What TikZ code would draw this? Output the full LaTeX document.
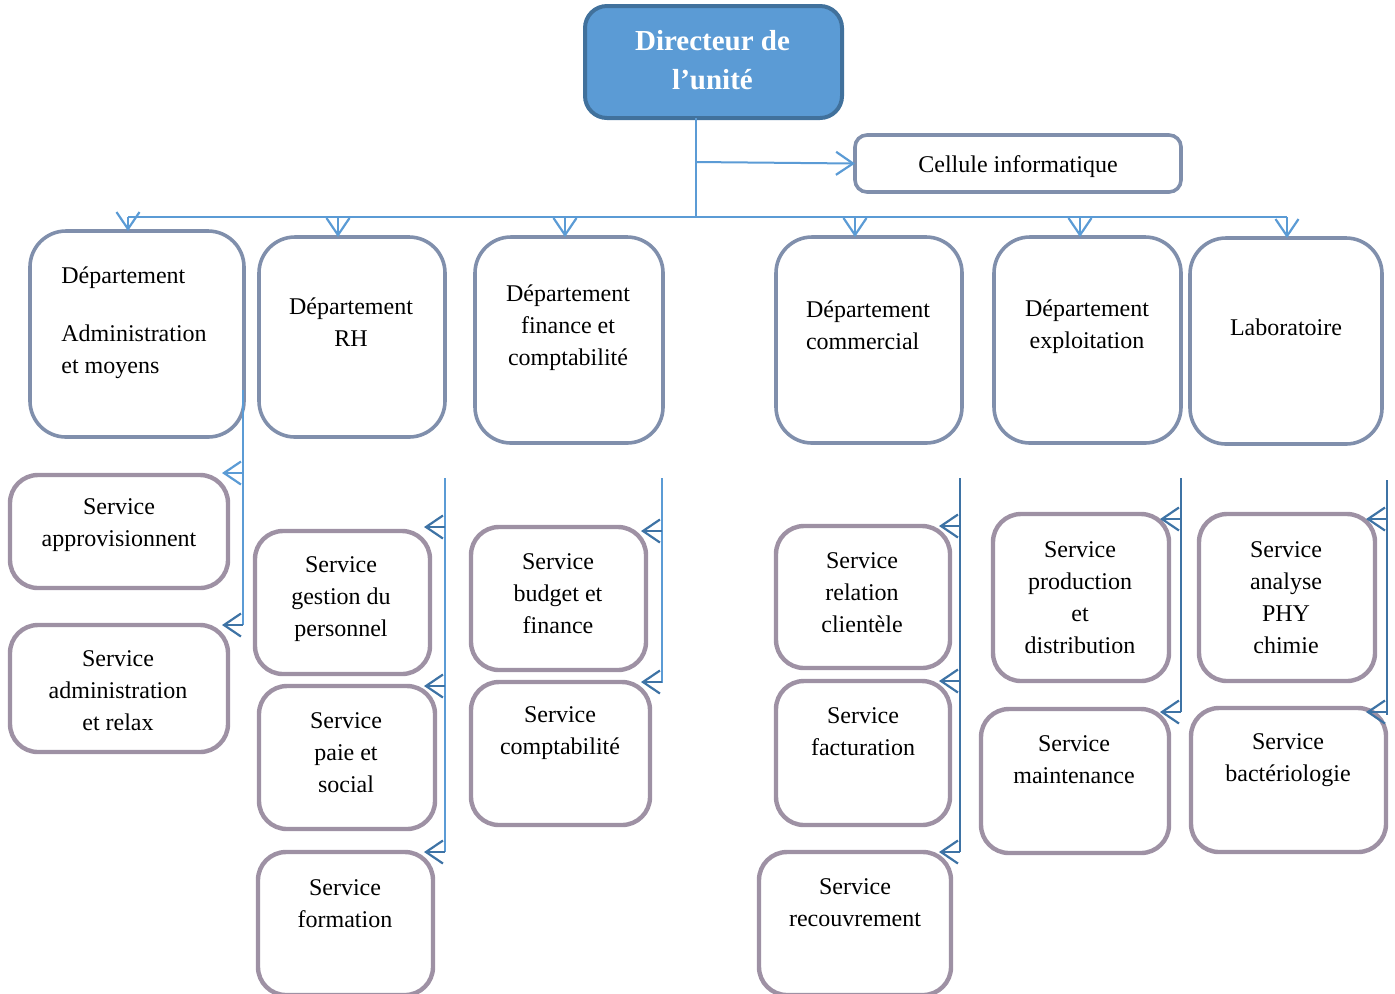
\documentclass[tikz,border=0pt]{standalone}
\usepackage{fontspec}
\setmainfont{Liberation Serif}
\usetikzlibrary{arrows.meta}
\definecolor{dirfill}{RGB}{91,155,213}
\definecolor{dirline}{RGB}{65,113,156}
\definecolor{deptc}{RGB}{128,143,172}
\definecolor{svcc}{RGB}{158,145,164}
\definecolor{lblue}{RGB}{91,155,213}
\definecolor{dblue}{RGB}{62,115,165}
\begin{document}
\begin{tikzpicture}[x=0.5pt,y=-0.5pt,
  box/.style={draw, inner sep=0pt, outer sep=0pt, fill=white},
  sz/.style 2 args={minimum width=#1*0.5pt, minimum height=#2*0.5pt},
  dept/.style={box, draw=deptc, line width=1.8pt, rounded corners=18pt},
  svc/.style={box, draw=svcc, line width=2.2pt, rounded corners=14pt},
  txt/.style={align=center, font=\fontsize{12}{16}\selectfont, inner sep=0pt},
  lnk/.style={draw=lblue, line width=1pt},
  dlnk/.style={draw=dblue, line width=0.9pt},
  arr/.style={-{Straight Barb[length=8.5pt,width=11.5pt,line width=1.1pt]}}]
\useasboundingbox (0,0) rectangle (1395,993);

% head of the unit
\node[box, fill=dirfill, draw=dirline, line width=2pt, rounded corners=11pt, sz={257}{112}] (dir) at (713.5,62) {};
\node[align=center, inner sep=0pt, text=white, font=\fontsize{14.5}{19.5}\selectfont\bfseries] (dirt) at (712.5,60) {Directeur de\\l’unité};

\node[box, draw=deptc, line width=1.8pt, rounded corners=6pt, sz={326}{57}] (cel) at (1018,163.5) {};
\node[txt] (celt) at (1018,167) {Cellule informatique};

% departments
\node[dept, sz={214}{206}] (d1) at (137,334) {};
\node[dept, sz={186}{200}] (d2) at (352,337) {};
\node[dept, sz={188}{206}] (d3) at (569,340) {};
\node[dept, sz={186}{206}] (d4) at (869,340) {};
\node[dept, sz={187}{206}] (d5) at (1087.5,340) {};
\node[dept, sz={192}{206}] (d6) at (1286,341) {};

\node[txt, align=left, anchor=west] (d1t) at (61,323) {Département\\[13pt]Administration\\et moyens};
\node[txt] (d2t) at (351,322) {Département\\RH};
\node[txt] (d3t) at (568,328) {Département\\finance et\\comptabilité};
\node[txt, align=left] (d4t) at (868,325) {Département\\commercial};
\node[txt] (d5t) at (1087,327) {Département\\exploitation};
\node[txt] (d6t) at (1286,327) {Laboratoire};

% services
\node[svc, sz={218}{113}] (s11) at (119,531.5) {};
\node[svc, sz={218}{127}] (s12) at (119,688.5) {};
\node[svc, sz={175}{143}] (s21) at (342.5,602.5) {};
\node[svc, sz={176}{143}] (s22) at (347,757.5) {};
\node[svc, sz={175}{143}] (s23) at (345.5,923.5) {};
\node[svc, sz={175}{143}] (s31) at (558.5,598.5) {};
\node[svc, sz={179}{143}] (s32) at (560.5,753.5) {};
\node[svc, sz={174}{142}] (s41) at (863,597) {};
\node[svc, sz={174}{144}] (s42) at (863,753) {};
\node[svc, sz={192}{143}] (s43) at (855,923.5) {};
\node[svc, sz={176}{167}] (s51) at (1081,597.5) {};
\node[svc, sz={188}{144}] (s52) at (1075,781) {};
\node[svc, sz={176}{167}] (s61) at (1287,597.5) {};
\node[svc, sz={195}{144}] (s62) at (1288.5,780) {};

\node[txt] (s11t) at (119,525) {Service\\approvisionnent};
\node[txt] (s12t) at (118,691) {Service\\administration\\et relax};
\node[txt] (s21t) at (341,599) {Service\\gestion du\\personnel};
\node[txt] (s22t) at (346,753) {Service\\paie et\\social};
\node[txt] (s23t) at (345,904) {Service\\formation};
\node[txt] (s31t) at (558,594) {Service\\budget et\\finance};
\node[txt] (s32t) at (560,733) {Service\\comptabilité};
\node[txt] (s41t) at (862,593) {Service\\relation\\clientèle};
\node[txt] (s42t) at (863,732) {Service\\facturation};
\node[txt] (s43t) at (855,903) {Service\\recouvrement};
\node[txt] (s51t) at (1080,598) {Service\\production\\et\\distribution};
\node[txt] (s52t) at (1074,760) {Service\\maintenance};
\node[txt] (s61t) at (1286,598) {Service\\analyse\\PHY\\chimie};
\node[txt] (s62t) at (1288,760) {Service\\bactériologie};

% main bus
\coordinate (busmid) at (696,217);
\coordinate (celbr) at (696,162);
\coordinate (busL) at (128,217);
\coordinate (busR) at (1287,217);
\coordinate (t2) at (338,217);
\coordinate (t3) at (565,217);
\coordinate (t4) at (855,217);
\coordinate (t5) at (1080,217);
\draw[lnk] (dir.south -| busmid) -- (busmid);
\draw[lnk] (busL) -- (busR);
\draw[lnk, arr] (celbr) -- (cel.west);
\draw[lnk, arr] (busL) -- (busL |- d1.north);
\draw[lnk, arr] (t2) -- (t2 |- d2.north);
\draw[lnk, arr] (t3) -- (t3 |- d3.north);
\draw[lnk, arr] (t4) -- (t4 |- d4.north);
\draw[lnk, arr] (t5) -- (t5 |- d5.north);
\draw[lnk, arr] (busR) -- (busR |- d6.north);

% column trunks
\coordinate (c1t) at (243,390);  \coordinate (c1b) at (243,625);
\coordinate (c2t) at (445,478);  \coordinate (c2b) at (445,852);
\coordinate (c3t) at (662,478);  \coordinate (c3b) at (662,683);
\coordinate (c4t) at (960,478);  \coordinate (c4b) at (960,852);
\coordinate (c5t) at (1181,478); \coordinate (c5b) at (1181,712);
\coordinate (c6t) at (1387,480); \coordinate (c6b) at (1387,715);
\draw[lnk] (c1t) -- (c1b);
\draw[lnk] (c2t) -- (c2b);
\draw[lnk] (c3t) -- (c3b);
\draw[dlnk] (c4t) -- (c4b);
\draw[dlnk] (c5t) -- (c5b);
\draw[dlnk] (c6t) -- (c6b);

% branches to the services
\draw[lnk, arr] ([yshift=1pt]s11.north east -| c1t) -- ++(-21,0);
\draw[dlnk, arr] (s12.north east -| c1t) -- ++(-21,0);
\draw[dlnk, arr] ([yshift=2pt]s21.north east -| c2t) -- ++(-21,0);
\draw[dlnk, arr] (s22.north east -| c2t) -- ++(-21,0);
\draw[dlnk, arr] (s23.north east -| c2t) -- ++(-21,0);
\draw[dlnk, arr] ([yshift=-2pt]s31.north east -| c3t) -- ++(-21,0);
\draw[dlnk, arr] (s32.north east -| c3t) -- ++(-21,0);
\draw[dlnk, arr] (s41.north east -| c4t) -- ++(-21,0);
\draw[dlnk, arr] (s42.north east -| c4t) -- ++(-21,0);
\draw[dlnk, arr] (s43.north east -| c4t) -- ++(-21,0);
\draw[dlnk, arr] ([yshift=-2.5pt]s51.north east -| c5t) -- ++(-21,0);
\draw[dlnk, arr] ([yshift=-1.5pt]s52.north east -| c5t) -- ++(-21,0);
\draw[dlnk, arr] ([yshift=-2.5pt]s61.north east -| c6t) -- ++(-21,0);
\draw[dlnk, arr] ([yshift=-2pt]s62.north east -| c6t) -- ++(-21,0);
\end{tikzpicture}
\end{document}
